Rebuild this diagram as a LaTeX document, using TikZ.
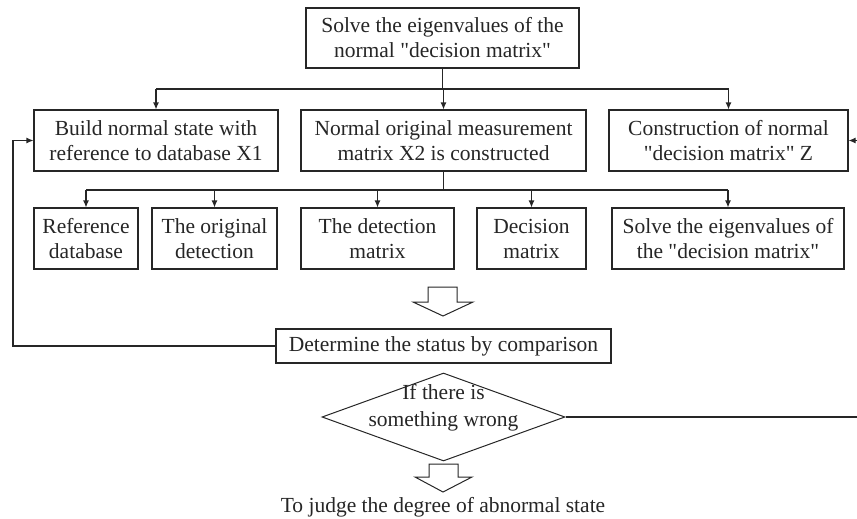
\documentclass[tikz,border=0pt]{standalone}
\usepackage{fontspec}
\setmainfont{Liberation Serif}[Ligatures=TeXOff]
\usetikzlibrary{arrows.meta,shapes.geometric}

\tikzset{
  box/.style={draw, line width=1.1pt, minimum height=61pt, inner sep=2pt, align=center,
    font=\fontsize{21.5}{25}\selectfont},
  link/.style={line width=1.1pt},
  into/.style={link, -{Latex[length=7pt,width=6pt]}},
  hollow/.style={line width=1pt, fill=white},
}

\begin{document}
\begin{tikzpicture}[x=1pt, y=-1pt, color=black!85]
    \useasboundingbox (0,0) rectangle (857,519);

    % top
    \node[box, minimum width=273pt, minimum height=60pt] (solvenorm) at (442.5,38)
        {Solve the eigenvalues of the\\normal "decision matrix"};

    % second row
    \node[box, minimum width=244pt] (build) at (156,140.5)
        {Build normal state with\\reference to database X1};
    \node[box, minimum width=285pt] (normal) at (443.5,140.5)
        {Normal original measurement\\matrix X2 is constructed};
    \node[box, minimum width=239pt] (constr) at (728.5,140.5)
        {Construction of normal\\"decision matrix" Z};

    % third row
    \node[box, minimum width=104pt] (refdb) at (86,238.5) {Reference\\database};
    \node[box, minimum width=125pt] (origdet) at (214.5,238.5) {The original\\detection};
    \node[box, minimum width=153pt] (detmat) at (377.5,238.5) {The detection\\matrix};
    \node[box, minimum width=109pt] (decmat) at (531.5,238.5) {Decision\\matrix};
    \node[box, minimum width=232pt] (solvedec) at (728,238.5)
        {Solve the eigenvalues of\\the "decision matrix"};

    % comparison and decision
    \node[box, minimum width=335pt, minimum height=34pt] (status) at (443.5,346)
        {Determine the status by comparison};
    \node[diamond, draw, line width=1pt, minimum width=243pt, minimum height=88pt,
        inner sep=0pt] (wrong) at (443.5,417) {};
    \node[align=center, font=\fontsize{21.5}{27}\selectfont] (wrongtxt) at (443.5,407.5)
        {If there is\\something wrong};
    \node[font=\fontsize{21.5}{25}\selectfont] (judge) at (443,507)
        {To judge the degree of abnormal state};

    % first bus
    \coordinate (bus1) at (443,89);
    \draw[link] (solvenorm.south) -- (solvenorm.south |- bus1);
    \draw[link] (build.north |- bus1) -- (constr.north |- bus1);
    \foreach \n in {build, normal, constr}
        \draw[into] (\n.north |- bus1) -- (\n.north);

    % second bus
    \coordinate (bus2) at (443,190);
    \draw[link] (normal.south) -- (normal.south |- bus2);
    \draw[link] (refdb.north |- bus2) -- (solvedec.north |- bus2);
    \foreach \n in {refdb, origdet, detmat, decmat, solvedec}
        \draw[into] (\n.north |- bus2) -- (\n.north);

    % feedback lines
    \coordinate (back) at (13,346);
    \draw[into] (status.west) -- (back) |- (build.west);
    \coordinate (rightend) at (857,417);
    \draw[link] (wrong.east) -- (rightend);
    \coordinate (rightin) at (857,140.5);
    \draw[into] (rightin) -- (constr.east);

    % hollow arrows
    \draw[hollow] (428,287) -- (457,287) -- (457,302) -- (473,302) -- (443,316)
        -- (413,302) -- (428,302) -- cycle;
    \draw[hollow] (429,464) -- (458,464) -- (458,477) -- (472,477) -- (443,492)
        -- (415,477) -- (429,477) -- cycle;
\end{tikzpicture}
\end{document}
